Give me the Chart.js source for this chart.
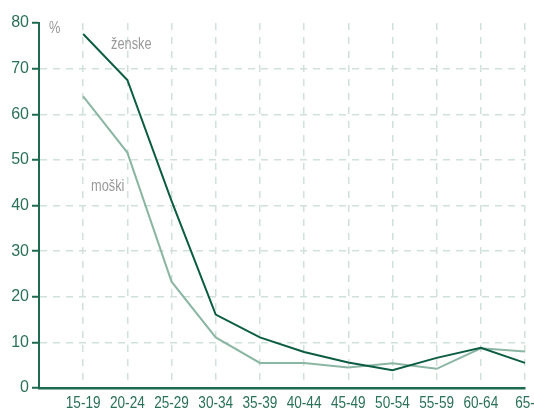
<!DOCTYPE html>
<html>
<head>
<meta charset="utf-8">
<script src="https://cdn.jsdelivr.net/npm/chart.js@4"></script>
<style>
  html, body { margin: 0; padding: 0; background: #fff; }
  #wrap { width: 534px; height: 410px; }
</style>
</head>
<body>
<div id="wrap"><canvas id="chart" width="534" height="410"></canvas></div>
<script>
// age groups (first slot is empty so the series start one step right of the axis)
const ageGroups = ['', '15-19', '20-24', '25-29', '30-34', '35-39', '40-44', '45-49', '50-54', '55-59', '60-64', '65-'];
const women = [null, 77.6, 67.5, 41, 16.1, 11.1, 7.9, 5.6, 3.9, 6.6, 8.8, 5.5];
const men = [null, 63.9, 51.6, 23.3, 11.1, 5.5, 5.5, 4.5, 5.4, 4.2, 8.7, 8.0];
const yTicks = [0, 10, 20, 30, 40, 50, 60, 70, 80];

const FONT = '"Liberation Sans", Arial, sans-serif';
const axisGreen = '#1d6a50';
const labelGreen = '#2b7058';
const gridColor = '#d0e1d9';

// condensed text: the original uses a narrow face, so squeeze horizontally
function narrowText(ctx, text, x, y, sx) {
  ctx.save();
  ctx.translate(x, y);
  ctx.scale(sx, 1);
  ctx.fillText(text, 0, 0);
  ctx.restore();
}

// draws the category labels under the axis and the grey series names
const labelsPlugin = {
  id: 'labels',
  afterDraw(chart) {
    const ctx = chart.ctx;
    const x = chart.scales.x;
    ctx.save();
    ctx.font = '17px ' + FONT;
    ctx.fillStyle = labelGreen;
    ctx.textAlign = 'center';
    ctx.textBaseline = 'alphabetic';
    ageGroups.forEach((lab, i) => {
      if (!lab) return;
      narrowText(ctx, lab, x.getPixelForValue(i), 408, 0.8);
    });
    ctx.font = '16px ' + FONT;
    ctx.fillStyle = '#9a9a9a';
    ctx.textAlign = 'left';
    ctx.textBaseline = 'middle';
    narrowText(ctx, '%', 49, 29, 0.8);
    narrowText(ctx, 'ženske', 111, 45, 0.8);
    narrowText(ctx, 'moški', 91, 187, 0.8);
    ctx.restore();
  }
};

new Chart(document.getElementById('chart'), {
  type: 'line',
  data: {
    labels: ageGroups,
    datasets: [
      {
        label: 'ženske',
        data: women,
        borderColor: '#0b5c42',
        borderWidth: 2,
        pointRadius: 0,
        tension: 0
      },
      {
        label: 'moški',
        data: men,
        borderColor: '#8bb6a4',
        borderWidth: 2,
        pointRadius: 0,
        tension: 0
      }
    ]
  },
  options: {
    responsive: false,
    animation: false,
    layout: { padding: { top: 23, right: 9, left: 0, bottom: 0 } },
    plugins: {
      legend: { display: false },
      tooltip: { enabled: false }
    },
    scales: {
      x: {
        offset: false,
        afterFit(scale) { scale.height = 22; },
        ticks: { display: false },
        grid: {
          color: ctx => ctx.index === 0 ? 'rgba(0,0,0,0)' : gridColor,
          lineWidth: 1.5,
          drawTicks: false
        },
        border: { color: axisGreen, width: 2.5, dash: [7, 7] }
      },
      y: {
        min: 0,
        max: 80,
        afterFit(scale) { scale.width = 39; },
        afterBuildTicks(scale) { scale.ticks = yTicks.map(v => ({ value: v })); },
        ticks: {
          color: labelGreen,
          font: { family: FONT, size: 16 },
          padding: 3
        },
        grid: {
          color: ctx => (ctx.tick && (ctx.tick.value === 0 || ctx.tick.value === 80)) ? 'rgba(0,0,0,0)' : gridColor,
          lineWidth: 1.5,
          tickLength: 7,
          tickColor: axisGreen,
          tickWidth: 2
        },
        border: { color: axisGreen, width: 2, dash: [7, 6] }
      }
    }
  },
  plugins: [labelsPlugin]
});
</script>
</body>
</html>
